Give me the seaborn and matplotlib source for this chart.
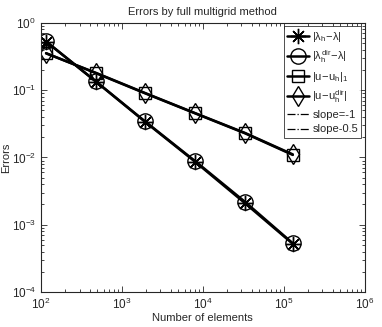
import numpy as np
import pandas as pd
import seaborn as sns
import matplotlib
matplotlib.use('Agg')
import matplotlib.pyplot as plt
from matplotlib.lines import Line2D

# values
n_elements = [116, 478, 1925, 7960, 33000, 129000]
err_lambda = [0.527, 0.134, 0.034, 0.0087, 0.0021, 0.00052]
err_lambda_dir = [0.530, 0.135, 0.0345, 0.0089, 0.0022, 0.00053]
err_u_h1 = [0.355, 0.179, 0.090, 0.0454, 0.0229, 0.0109]
err_u_dir = [0.352, 0.181, 0.091, 0.0458, 0.0232, 0.0111]

labels = [r'$|\lambda_h\!-\!\lambda|$', r'$|\lambda_h^{dir}\!-\!\lambda|$',
          r'$|u\!-\!u_h|_1$', r'$|u\!-\!u_h^{dir}|$']
markers = [(8, 2, 0), 'o', 's', 'd']
sizes = [11, 11, 8, 10]

sns.set_style('ticks')
plt.rcParams['font.family'] = ['Liberation Sans', 'DejaVu Sans']
plt.rcParams['mathtext.fontset'] = 'custom'
plt.rcParams['mathtext.rm'] = 'Liberation Sans'
plt.rcParams['mathtext.it'] = 'Liberation Sans'
plt.rcParams['xtick.direction'] = 'in'
plt.rcParams['ytick.direction'] = 'in'

fig = plt.figure(figsize=(3.82, 3.27), dpi=100)
ax = fig.add_axes([0.107, 0.107, 0.848, 0.823])

series = [err_lambda, err_lambda_dir, err_u_h1, err_u_dir]
handles = []
for vals, lab, m, s in zip(series, labels, markers, sizes):
    df = pd.DataFrame({'n': n_elements, 'err': vals})
    sns.lineplot(data=df, x='n', y='err', ax=ax, color='black', linewidth=1.8,
                 marker=m, markersize=s, markerfacecolor='none',
                 markeredgecolor='black', markeredgewidth=1.0)
    handles.append(Line2D([], [], color='black', linewidth=1.8, marker=m,
                          markersize=s, markerfacecolor='none',
                          markeredgecolor='black', label=lab))

handles.append(Line2D([], [], color='black', linestyle='-.', linewidth=0.9, label='slope=-1'))
handles.append(Line2D([], [], color='black', linestyle='-.', linewidth=0.9, label='slope-0.5'))

ax.set_xscale('log')
ax.set_yscale('log')
ax.set_xlim(1e2, 1e6)
ax.set_ylim(1e-4, 1e0)
ax.tick_params(which='both', top=True, right=True, labelsize=8.5, width=0.6)
ax.tick_params(which='major', length=4)
ax.tick_params(which='minor', length=2)
for sp in ax.spines.values():
    sp.set_linewidth(0.8)

ax.set_xlabel('Number of elements', fontsize=8, labelpad=1)
ax.set_ylabel('Errors', fontsize=8)
ax.yaxis.set_label_coords(-0.092, 0.5)
ax.set_title('Errors by full multigrid method', fontsize=8, pad=6)

leg = ax.legend(handles=handles, loc='upper right', fontsize=8, frameon=True,
                fancybox=False, edgecolor='black', handlelength=2.0,
                handletextpad=0.3, labelspacing=0.42, borderpad=0.3,
                borderaxespad=0.3)
leg.get_frame().set_linewidth(0.6)

fig.savefig('out.png', dpi=100)
